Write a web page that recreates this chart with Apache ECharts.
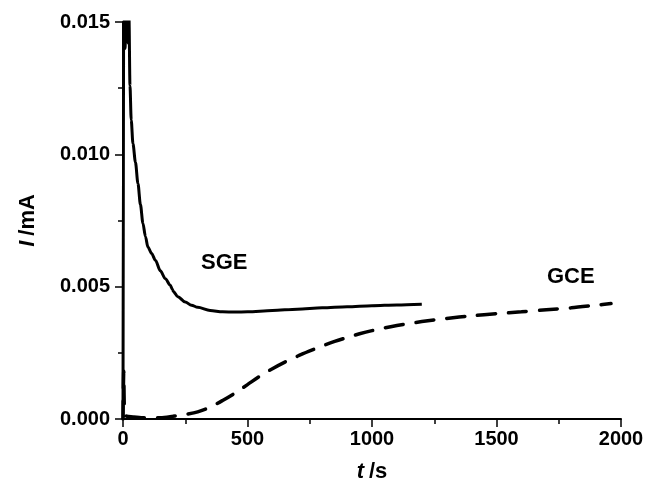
<!DOCTYPE html>
<html>
<head>
<meta charset="utf-8">
<script src="https://cdn.jsdelivr.net/npm/echarts@6/dist/echarts.min.js"></script>
<style>
  html, body { margin: 0; padding: 0; background: #fff; }
  #chart { width: 648px; height: 488px; }
</style>
</head>
<body>
<div id="chart"></div>
<script>
// SGE (solid) — time in s, current in mA
const sgeTime = [0, 3, 8, 14, 20, 24, 28, 33, 40, 50, 60, 70, 80, 90, 100, 115, 130, 150, 170, 190, 198, 202, 220, 250, 275, 300, 350, 400, 450, 500, 600, 700, 800, 900, 1000, 1100, 1200]
const sgeCurrent = [0, 0.0158, 0.0140, 0.0158, 0.0142, 0.0152, 0.0126, 0.0113, 0.0104, 0.0097, 0.0089, 0.0081, 0.0074, 0.0069, 0.0065, 0.00625, 0.0060, 0.0056, 0.0053, 0.00505, 0.0049, 0.00482, 0.00462, 0.00442, 0.0043, 0.00422, 0.0041, 0.00405, 0.00404, 0.00405, 0.0041, 0.00415, 0.0042, 0.00424, 0.00428, 0.00431, 0.00434]

// GCE (dashed)
const gceTime = [0, 3, 6, 12, 40, 80, 150, 200, 250, 300, 350, 400, 450, 500, 550, 600, 650, 700, 750, 800, 850, 900, 950, 1000, 1050, 1100, 1150, 1200, 1300, 1400, 1500, 1600, 1700, 1800, 1900, 1960]
const gceCurrent = [0, 0.0018, 0.0003, 0.00012, 0.00008, 0.00005, 0.00005, 0.0001, 0.00017, 0.00027, 0.00045, 0.0007, 0.00098, 0.0013, 0.00162, 0.0019, 0.00215, 0.00237, 0.00257, 0.00276, 0.00293, 0.00308, 0.00322, 0.00334, 0.00344, 0.00353, 0.00361, 0.00368, 0.0038, 0.0039, 0.00398, 0.00405, 0.00413, 0.0042, 0.0043, 0.00436]

const xTicks = { min: 0, max: 2000, interval: 500 }
const yTicks = { min: 0, max: 0.015, interval: 0.005 }

const chart = echarts.init(document.getElementById('chart'), null, { renderer: 'canvas' })

const tickFont = {
    fontFamily: 'Liberation Sans',
    fontWeight: 'bold',
    fontSize: 20,
    color: '#000'
}
const nameRich = {
    i: { fontFamily: 'Liberation Sans', fontWeight: 'bold', fontStyle: 'italic', fontSize: 22, color: '#000', padding: [0, 5, 0, 0] },
    n: { fontFamily: 'Liberation Sans', fontWeight: 'bold', fontSize: 22, color: '#000' }
}
const tickStyle = { color: '#000', width: 1.5 }

const zip = (xs, ys) => xs.map((x, i) => [x, ys[i]])

chart.setOption({
    animation: false,
    backgroundColor: '#fff',
    grid: {
        left: 123,
        right: 27,
        top: 22,
        bottom: 64
    },
    xAxis: {
        type: 'value',
        min: xTicks.min,
        max: xTicks.max,
        interval: xTicks.interval,
        name: '{i|t}{n|/s}',
        nameLocation: 'middle',
        nameGap: 42,
        nameTextStyle: { rich: nameRich },
        axisLine: { onZero: false, lineStyle: { color: '#000', width: 2 } },
        axisTick: { inside: false, length: 8, lineStyle: tickStyle },
        minorTick: { show: true, splitNumber: 2, length: 5, lineStyle: tickStyle },
        axisLabel: Object.assign({ margin: 10, formatter: v => String(v) }, tickFont),
        splitLine: { show: false }
    },
    yAxis: {
        type: 'value',
        min: yTicks.min,
        max: yTicks.max,
        interval: yTicks.interval,
        name: '{i|I}{n|/mA}',
        nameLocation: 'middle',
        nameGap: 84,
        nameTextStyle: { rich: nameRich },
        axisLine: { onZero: false, lineStyle: { color: '#000', width: 2 } },
        axisTick: { inside: false, length: 8, lineStyle: tickStyle },
        minorTick: { show: true, splitNumber: 2, length: 5, lineStyle: tickStyle },
        axisLabel: Object.assign({
            margin: 13,
            formatter: v => v.toFixed(3)
        }, tickFont),
        splitLine: { show: false }
    },
    graphic: [
        {
            type: 'text',
            left: 201,
            top: 252,
            style: { text: 'SGE', font: 'bold 22px "Liberation Sans"', fill: '#000' }
        },
        {
            type: 'text',
            left: 547,
            top: 266,
            style: { text: 'GCE', font: 'bold 22px "Liberation Sans"', fill: '#000' }
        }
    ],
    series: [
        {
            name: 'SGE',
            type: 'line',
            data: zip(sgeTime, sgeCurrent),
            showSymbol: false,
            smooth: 0.3,
            smoothMonotone: 'x',
            clip: true,
            lineStyle: { color: '#000', width: 3 }
        },
        {
            name: 'GCE',
            type: 'line',
            data: zip(gceTime, gceCurrent),
            showSymbol: false,
            smooth: 0.3,
            clip: true,
            lineStyle: { color: '#000', width: 3.5, type: [18, 13], cap: 'round' }
        }
    ]
})
</script>
</body>
</html>
